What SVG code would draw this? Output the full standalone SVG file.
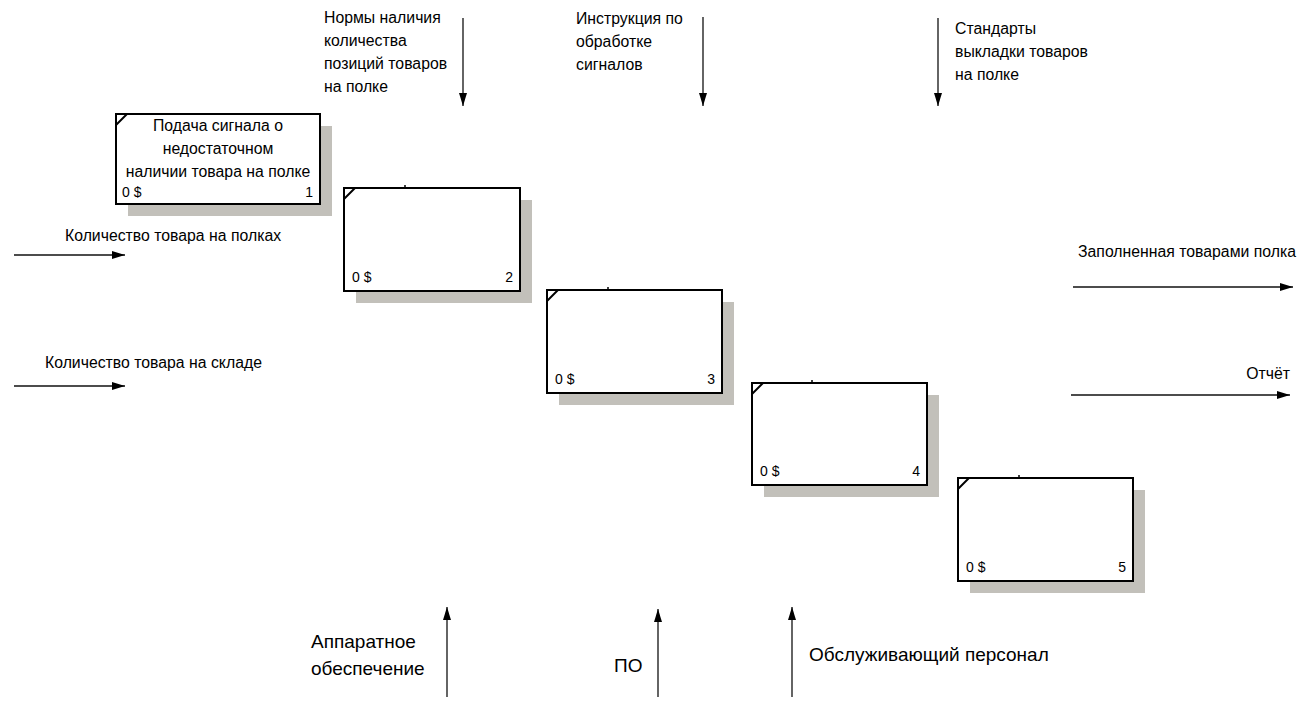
<svg xmlns="http://www.w3.org/2000/svg" width="1315" height="719" viewBox="0 0 1315 719">
<defs>
<style>
text{font-family:"Liberation Sans",Arial,sans-serif;fill:#000;}
.lbl{font-size:15.8px;}
.mech{font-size:19px;}
.cost{font-size:14px;}
.box{fill:#fff;stroke:#000;stroke-width:2;}
.shadow{fill:#c2c0ba;}
.corner{stroke:#000;stroke-width:2;fill:none;}
.tick{stroke:#000;stroke-width:1.5;}
.arrow{stroke:#111;stroke-width:1.3;fill:none;marker-end:url(#ah);}
</style>
<marker id="ah" viewBox="0 0 13 8" refX="13" refY="4" markerWidth="13" markerHeight="8" markerUnits="userSpaceOnUse" orient="auto">
<path d="M0,0 L13,4 L0,8 Z" fill="#000"/>
</marker>
</defs>
<rect width="1315" height="719" fill="#fff"/>

<g id="node1">
<rect class="shadow" x="128" y="126" width="204" height="90"/>
<rect class="box" x="116" y="114" width="204" height="90"/>
<line class="corner" x1="116" y1="125" x2="127" y2="114"/>
<text class="lbl" x="218" y="131" text-anchor="middle">Подача сигнала о</text>
<text class="lbl" x="218" y="154" text-anchor="middle">недостаточном</text>
<text class="lbl" x="218" y="177" text-anchor="middle">наличии товара на полке</text>
<text class="cost" x="122" y="197">0 $</text>
<text class="cost" x="313" y="197" text-anchor="end">1</text>
</g>

<g id="node2">
<rect class="shadow" x="356" y="200" width="176" height="103"/>
<rect class="box" x="344" y="188" width="176" height="103"/>
<line class="corner" x1="344" y1="199" x2="355" y2="188"/>
<line class="tick" x1="405" y1="185" x2="405" y2="188"/>
<text class="cost" x="352" y="282">0 $</text>
<text class="cost" x="513" y="282" text-anchor="end">2</text>
</g>

<g id="node3">
<rect class="shadow" x="559" y="302" width="175" height="103"/>
<rect class="box" x="547" y="290" width="175" height="103"/>
<line class="corner" x1="547" y1="301" x2="558" y2="290"/>
<line class="tick" x1="608" y1="287" x2="608" y2="290"/>
<text class="cost" x="555" y="384">0 $</text>
<text class="cost" x="715" y="384" text-anchor="end">3</text>
</g>

<g id="node4">
<rect class="shadow" x="764" y="395" width="175" height="102"/>
<rect class="box" x="752" y="383" width="175" height="102"/>
<line class="corner" x1="752" y1="394" x2="763" y2="383"/>
<line class="tick" x1="812" y1="380" x2="812" y2="383"/>
<text class="cost" x="760" y="476">0 $</text>
<text class="cost" x="920" y="476" text-anchor="end">4</text>
</g>

<g id="node5">
<rect class="shadow" x="970" y="490" width="175" height="103"/>
<rect class="box" x="958" y="478" width="175" height="103"/>
<line class="corner" x1="958" y1="489" x2="969" y2="478"/>
<line class="tick" x1="1019" y1="475" x2="1019" y2="478"/>
<text class="cost" x="966" y="572">0 $</text>
<text class="cost" x="1126" y="572" text-anchor="end">5</text>
</g>

<g id="connectors">
<line class="arrow" x1="14" y1="255" x2="125" y2="255"/>
<line class="arrow" x1="14" y1="386" x2="125" y2="386"/>
<line class="arrow" x1="1073" y1="287" x2="1293" y2="287"/>
<line class="arrow" x1="1071" y1="395" x2="1290" y2="395"/>
<line class="arrow" x1="463" y1="18" x2="463" y2="106"/>
<line class="arrow" x1="703" y1="17" x2="703" y2="106"/>
<line class="arrow" x1="938" y1="18" x2="938" y2="106"/>
<line class="arrow" x1="447" y1="697" x2="447" y2="607"/>
<line class="arrow" x1="658" y1="697" x2="658" y2="609"/>
<line class="arrow" x1="792" y1="697" x2="792" y2="607"/>
</g>

<g id="labels">
<text class="lbl" x="65" y="241">Количество товара на полках</text>
<text class="lbl" x="45" y="368">Количество товара на складе</text>
<text class="lbl" x="1078" y="257">Заполненная товарами полка</text>
<text class="lbl" x="1290" y="379" text-anchor="end">Отчёт</text>
<text class="lbl" x="324" y="23">Нормы наличия</text>
<text class="lbl" x="324" y="46">количества</text>
<text class="lbl" x="324" y="69">позиций товаров</text>
<text class="lbl" x="324" y="92">на полке</text>
<text class="lbl" x="576" y="24">Инструкция по</text>
<text class="lbl" x="576" y="47">обработке</text>
<text class="lbl" x="576" y="70">сигналов</text>
<text class="lbl" x="955" y="34">Стандарты</text>
<text class="lbl" x="955" y="57">выкладки товаров</text>
<text class="lbl" x="955" y="80">на полке</text>
<text class="mech" x="311" y="648">Аппаратное</text>
<text class="mech" x="311" y="675">обеспечение</text>
<text class="mech" x="614" y="672">ПО</text>
<text class="mech" x="809" y="661">Обслуживающий персонал</text>
</g>
</svg>
